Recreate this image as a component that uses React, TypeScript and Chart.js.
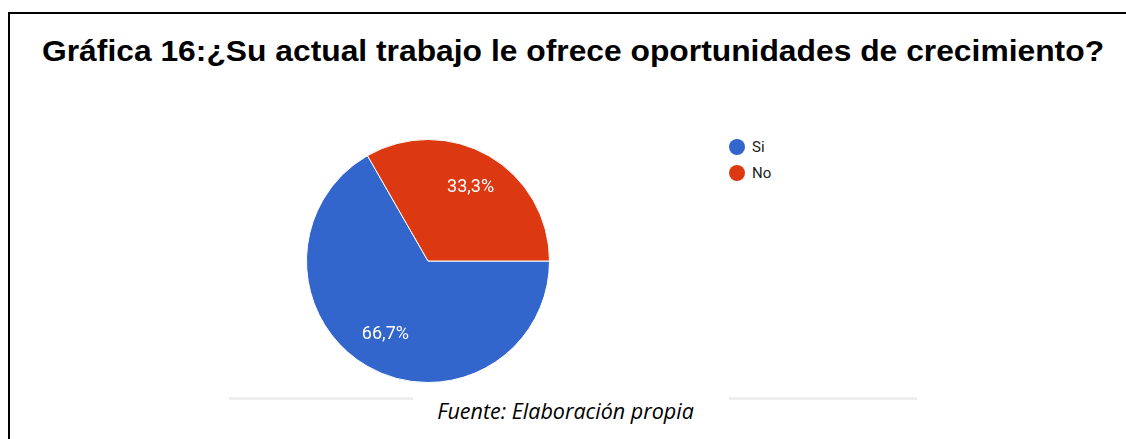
import React, { useEffect, useRef } from "react";
import { Chart, registerables } from "chart.js";

Chart.register(...registerables);

const TITLE = "Gráfica 16:¿Su actual trabajo le ofrece oportunidades de crecimiento?";
const FOOTER = "Fuente: Elaboración propia";
const categories = ["Si", "No"];
const values = [66.7, 33.3];
const colors = ["#3366cc", "#dc3912"];

const labelPlugin = {
  id: "sliceLabels",
  afterDatasetsDraw(chart: any) {
    const ctx = chart.ctx;
    const meta = chart.getDatasetMeta(0);
    const total = values.reduce((a, b) => a + b, 0);
    ctx.save();
    ctx.font = "18px Roboto";
    ctx.fillStyle = "#ffffff";
    ctx.textAlign = "center";
    ctx.textBaseline = "middle";
    meta.data.forEach((arc: any, i: number) => {
      const p = arc.getProps(["x", "y", "startAngle", "endAngle", "outerRadius"], true);
      const mid = (p.startAngle + p.endAngle) / 2;
      const r = p.outerRadius * 0.7;
      const pct = ((values[i] / total) * 100).toFixed(1).replace(".", ",") + "%";
      ctx.fillText(pct, p.x + Math.cos(mid) * r, p.y + Math.sin(mid) * r);
    });
    ctx.restore();
  },
};

export default function App() {
  const ref = useRef<HTMLCanvasElement>(null);
  useEffect(() => {
    document.body.style.margin = "0";
    const chart = new Chart(ref.current!, {
      type: "pie",
      data: {
        labels: categories,
        datasets: [
          {
            data: values,
            backgroundColor: colors,
            borderColor: "#ffffff",
            borderWidth: 1,
          },
        ],
      },
      options: {
        responsive: false,
        animation: false,
        rotation: 90,
        layout: { padding: 0 },
        plugins: {
          legend: { display: false },
          tooltip: { enabled: false },
          title: { display: false },
        },
      },
      plugins: [labelPlugin],
    });
    return () => chart.destroy();
  }, []);

  return (
    <div style={{ position: "fixed", left: 0, top: 0, width: 1126, height: 439, overflow: "hidden", background: "#fff" }}>
      <div
        style={{
          position: "absolute",
          left: 8,
          top: 12,
          width: 1300,
          height: 600,
          borderTop: "2px solid #000",
          borderLeft: "2px solid #000",
        }}
      />
      <div
        style={{
          position: "absolute",
          left: 42,
          top: 34,
          whiteSpace: "nowrap",
          font: "bold 30px 'Liberation Sans', Arial, sans-serif",
          lineHeight: "34px",
          color: "#000",
          transform: "scaleX(1.06)",
          transformOrigin: "0 0",
        }}
      >
        {TITLE}
      </div>
      <canvas
        ref={ref}
        width={244}
        height={244}
        style={{ position: "absolute", left: 306, top: 139, width: 244, height: 244 }}
      />
      <div style={{ position: "absolute", left: 729, top: 134 }}>
        {categories.map((c, i) => (
          <div key={c} style={{ display: "flex", alignItems: "center", height: 26 }}>
            <span
              style={{
                display: "inline-block",
                width: 16,
                height: 16,
                borderRadius: 8,
                background: colors[i],
                marginRight: 7,
              }}
            />
            <span style={{ font: "15px Roboto, sans-serif", color: "#222" }}>{c}</span>
          </div>
        ))}
      </div>
      <div style={{ position: "absolute", left: 229, top: 397, width: 184, height: 3, background: "#efefef" }} />
      <div style={{ position: "absolute", left: 729, top: 397, width: 188, height: 3, background: "#efefef" }} />
      <div
        style={{
          position: "absolute",
          left: 0,
          width: 1131,
          top: 398,
          textAlign: "center",
          font: "italic 21.5px 'Open Sans', sans-serif",
          lineHeight: "26px",
          color: "#000",
        }}
      >
        {FOOTER}
      </div>
    </div>
  );
}
